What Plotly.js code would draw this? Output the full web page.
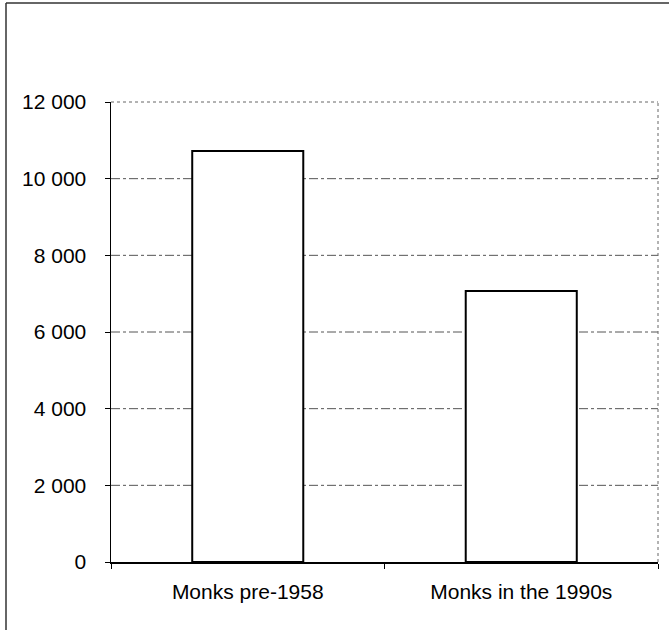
<!DOCTYPE html>
<html><head><meta charset="utf-8">
<script src="https://cdn.plot.ly/plotly-3.0.1.min.js"></script>
<style>body{margin:0;padding:0;background:#fff}#c{width:669px;height:630px}</style>
</head><body><div id="c"></div>
<script>
const categories = ["Monks pre-1958", "Monks in the 1990s"];
const monks = [10720, 7070];
const yTicks = [0, 2000, 4000, 6000, 8000, 10000, 12000];

const W = 669, H = 630, L = 111, R = 11, T = 102, B = 68;
const pw = W - L - R, ph = H - T - B;
const px = x => (x - L) / pw;
const py = y => 1 - (y - T) / ph;

const shapes = [];
// dash-dot grid lines
yTicks.slice(1, -1).forEach(v => shapes.push({type:'line', xref:'paper', yref:'y', x0:0, x1:1, y0:v, y1:v, layer:'below', line:{color:'#555', width:1, dash:'dashdot'}}));
// plot frame: top and right dotted
shapes.push({type:'line', xref:'paper', yref:'paper', x0:0, x1:1, y0:1, y1:1, line:{color:'#666', width:1, dash:'dot'}});
shapes.push({type:'line', xref:'paper', yref:'paper', x0:1, x1:1, y0:0, y1:1, line:{color:'#666', width:1, dash:'dot'}});
// outer page frame
shapes.push({type:'line', xref:'paper', yref:'paper', x0:px(6), x1:px(6), y0:py(3), y1:py(630), line:{color:'#333', width:1.5}});
shapes.push({type:'line', xref:'paper', yref:'paper', x0:px(6), x1:px(669), y0:py(3), y1:py(3), line:{color:'#333', width:1.5}});

Plotly.newPlot('c', [{
  type:'bar', x:categories, y:monks,
  marker:{color:'#ffffff', line:{color:'#000', width:2}},
  hoverinfo:'skip'
}], {
  width:W, height:H,
  margin:{l:L, r:R, t:T, b:B, pad:0},
  paper_bgcolor:'#fff', plot_bgcolor:'#fff',
  separators:'. ',
  bargap:0.594,
  showlegend:false,
  font:{family:'Liberation Sans, Arial, sans-serif', size:21, color:'#000'},
  xaxis:{showgrid:false, showline:true, linecolor:'#000', linewidth:1.5, ticks:'outside', tickson:'boundaries', ticklen:5, tickcolor:'#000', tickfont:{size:21}, ticklabelstandoff:10, zeroline:false},
  yaxis:{range:[0,12000], tickvals:yTicks, tickformat:',d', showgrid:false, zeroline:false, showline:true, linecolor:'#000', linewidth:1.5, ticks:'outside', ticklen:5, tickcolor:'#000', tickfont:{size:21}, ticklabelstandoff:14},
  shapes:shapes
}, {displayModeBar:false, staticPlot:true});
</script></body></html>
